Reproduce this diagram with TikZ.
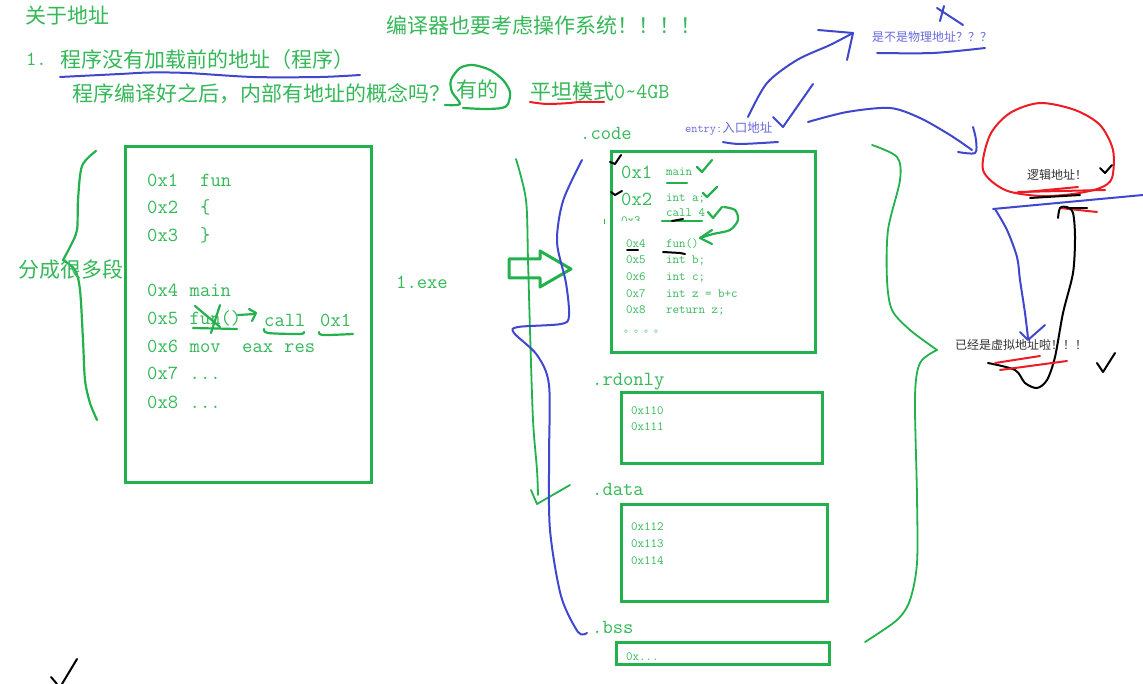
\documentclass[tikz,border=0pt]{standalone}
\usepackage{fontspec}
\setmainfont{Noto Sans CJK SC}
\definecolor{pgreen}{RGB}{34,177,76}
\definecolor{tgreen}{RGB}{52,184,88}
\definecolor{pblue}{RGB}{63,72,204}
\definecolor{tblue}{RGB}{105,105,222}
\definecolor{pred}{RGB}{237,28,36}
\definecolor{tdark}{RGB}{50,50,50}
\newcommand\myfs[1]{\fontsize{#1}{#1}\selectfont}
\tikzset{
  txt/.style={anchor=base west, inner sep=0pt, text=tgreen},
  zh/.style={txt, font={\myfs{21}}},
  cd/.style={txt, font={\ttfamily\myfs{20}}},
  sm/.style={txt, font={\ttfamily\myfs{12.6}}},
  gpen/.style={draw=pgreen, line width=2.2pt, line cap=round, line join=round},
  gbox/.style={draw=pgreen, line width=3pt},
  bpen/.style={draw=pblue, line width=2pt, line cap=round, line join=round},
  rpen/.style={draw=pred, line width=2pt, line cap=round, line join=round},
  kpen/.style={draw=black, line width=2pt, line cap=round, line join=round},
}
\begin{document}
\begin{tikzpicture}[x=1pt,y=-1pt]
\fill[white] (0,0) rectangle (1143,684);
\useasboundingbox (0,0) rectangle (1143,684);

% ---------- header texts ----------
\node[zh] (title) at (25,24) {关于地址};
\node[zh] (os) at (386,34) {编译器也要考虑操作系统！！！！};
\node[cd] (n1) at (26,66) {1.};
\node[zh] (q1) at (60,68) {程序没有加载前的地址（程序）};
\node[zh] (q2) at (72,102) {程序编译好之后，内部有地址的概念吗？};
\node[zh] (yes) at (456,98) {有的};
\node[zh] (flat) at (530,100) {平坦模式};
\node[txt, font={\ttfamily\myfs{21.5}}] (gb) at (614,99) {0\char"7E 4GB};

\draw[bpen] plot[smooth] coordinates {(60,77) (120,74) (150,72.5) (187,73) (253,77) (320,77) (360,75)};
\draw[gpen] plot[smooth] coordinates {(445,105) (460,104) (452,92) (451,80) (460,68) (473,65) (490,70) (503,80) (510,92) (508,104) (502,108) (485,109) (463,108)};
\draw[rpen] plot[smooth] coordinates {(530,102) (547,104) (570,103) (578,102) (604,102)};

% ---------- left part ----------
\draw[gpen] plot[smooth] coordinates {(96,151) (82,166) (78,200) (77,230) (70,247) (63,260)};
\draw[gpen] plot[smooth] coordinates {(63,260) (75,270) (80,290) (83,340) (85,380) (90,403) (97,420)};
\node[zh] (seg) at (18,278) {分成很多段};

\draw[gbox] (125,147) rectangle (371,482);
\node[cd] (a1) at (147,187) {0x1};
\node[cd] (a2) at (147,214) {0x2};
\node[cd] (a3) at (147,242) {0x3};
\node[cd] (a4) at (147,297) {0x4};
\node[cd] (a5) at (147,325) {0x5};
\node[cd] (a6) at (147,353) {0x6};
\node[cd] (a7) at (147,380) {0x7};
\node[cd] (a8) at (147,408) {0x8};
\node[cd] (l1) at (200,187) {fun};
\node[cd] (l2) at (200,214) {\{};
\node[cd] (l3) at (200,242) {\}};
\node[cd] (l4) at (189.5,297) {main};
\node[cd] (l5) at (189.5,325) {fun()};
\node[cd] (call) at (264,327) {call};
\node[cd] (callad) at (320,327) {0x1};
\node[cd] (l6) at (189.5,353) {mov};
\node[cd] (eax) at (242,353) {eax};
\node[cd] (res) at (284,353) {res};
\node[cd] (l7) at (189.5,380) {...};
\node[cd] (l8) at (189.5,408) {...};
\draw[gpen] (195,306) -- (220,327);
\draw[gpen] (220,305) -- (211,333);
\draw[gpen] (193,328) -- (237,329);
\draw[gpen] (238,315) -- (255,314);
\draw[gpen] (249,309) -- (256,313) -- (252,321);
\draw[gpen] plot[smooth] coordinates {(264,329) (268,333) (300,334) (304,332)};
\draw[gpen] plot[smooth] coordinates {(319,332) (323,335) (353,334)};

% ---------- middle ----------
\node[cd] (exe) at (396,289) {1.exe};
\draw[gpen, line width=3pt] (509,259) -- (540,259) -- (540,251) -- (571,269) -- (540,287) -- (540,278) -- (509,278) -- cycle;
\draw[gpen, line width=1.8pt] plot[smooth] coordinates {(516,159) (526,200) (528,260) (530,330) (533,420) (537,470) (538,495)};
\draw[gpen, line width=1.8pt] (531,490) -- (537,504) -- (570,485);
\draw[bpen] plot[smooth] coordinates {(582,160) (563,201) (557,242) (566,283) (569,316) (561,324) (518,327) (514,333) (537,355) (549,385) (549,460) (550,530) (561,596) (578,632) (587,633)};

% ---------- sections ----------
\node[cd] (code) at (580,140) {.code};
\node[cd] (rdonly) at (592,385) {.rdonly};
\node[cd] (data) at (592,495) {.data};
\node[cd] (bss) at (592,633) {.bss};

\draw[gbox] (611,152) rectangle (815,353);
\node[cd] (b1) at (621,179) {0x1};
\node[sm] (c1) at (666,175.5) {main};
\node[cd] (b2) at (621,206) {0x2};
\node[sm] (c2) at (666,202) {int a;};
\begin{scope}
\clip (615,207) rectangle (660,221);
\node[sm] (b3) at (621,225) {0x3};
\end{scope}
\node[sm] (c3) at (666,217) {call 4};
\node[sm] (b4) at (626,248) {0x4};
\node[sm] (c4) at (666,248) {fun()};
\node[sm] (b5) at (626,264) {0x5};
\node[sm] (c5) at (666,264) {int b;};
\node[sm] (b6) at (626,281) {0x6};
\node[sm] (c6) at (666,281) {int c;};
\node[sm] (b7) at (626,298) {0x7};
\node[sm] (c7) at (666,298) {int z = b+c};
\node[sm] (b8) at (626,314) {0x8};
\node[sm] (c8) at (666,314) {return z;};
\node[txt, font={\myfs{10}}] (dots) at (624,333) {。。。。};
\draw[pgreen, line width=1pt] (604,219) -- (604,224);

\draw[gpen] (697,167) -- (702,172) -- (712,160);
\draw[gpen] (703,193) -- (707,197) -- (717,187);
\draw[gpen] (708,212) -- (713,218) -- (722,207);
\draw[gpen] (667,183) -- (687,183);
\draw[gpen] (662,221) -- (702,221);
\draw[gpen] plot[smooth] coordinates {(724,207) (735,210) (738,220) (730,230) (713,234) (700,238)};
\draw[gpen] (712,230) -- (700,238) -- (712,244);
\draw[kpen] (610,162) -- (615,164) -- (621,155);
\draw[kpen] (611,192) -- (615,195) -- (622,191);
\draw[kpen] (672,221) -- (683,219);
\draw[kpen] (627,250) -- (638,250);
\draw[kpen] (663,252) -- (680,253) -- (685,254);

\draw[gbox] (621,393) rectangle (822,463);
\node[sm] (r1) at (631,414) {0x110};
\node[sm] (r2) at (631,430) {0x111};
\draw[gbox] (621,504) rectangle (827,601);
\node[sm] (d1) at (631,530) {0x112};
\node[sm] (d2) at (631,547) {0x113};
\node[sm] (d3) at (631,564) {0x114};
\draw[gbox] (616,642) rectangle (829,664);
\node[sm] (s1) at (626,660) {0x...};

% right brace
\draw[gpen, line width=1.8pt] plot[smooth] coordinates {(872,145) (897,157) (900,180) (888,230) (887,280) (892,310) (910,330) (937,350)};
\draw[gpen, line width=1.8pt] plot[smooth] coordinates {(937,350) (920,363) (915,397) (917,497) (917,563) (910,600) (897,620) (865,642)};

% ---------- upper right ----------
\node[txt, text=tblue, font={\myfs{12.5}}] (entry) at (685,133) {{\ttfamily\myfs{12}entry:}入口地址};
\draw[bpen] plot[smooth] coordinates {(723,142) (740,144) (778,142)};
\draw[bpen] plot[smooth] coordinates {(748,117) (767,83) (797,60) (830,45) (853,33)};
\draw[bpen] (818,30) -- (853,33) -- (847,60);
\draw[bpen] (773,117) -- (783,127) -- (813,84);
\node[txt, text=tblue, font={\myfs{12}}] (phys) at (872,42) {是不是物理地址？？？};
\draw[bpen] plot[smooth] coordinates {(877,53) (933,53) (985,48)};
\draw[bpen] (937,8) -- (963,25);
\draw[bpen] (944,6) -- (940,21);
\draw[bpen] plot[smooth] coordinates {(808,122) (847,112) (890,108) (920,118) (950,135) (972,150)};
\draw[bpen] plot[smooth] coordinates {(973,127) (976,140) (975,153) (958,152)};

\draw[rpen] plot[smooth cycle] coordinates {(983,170) (990,135) (1010,113) (1040,103) (1075,110) (1100,125) (1113,150) (1112,178) (1100,188) (1073,194) (1040,196) (1005,190)};
\node[txt, text=tdark, font={\myfs{12}}] (logic) at (1027,180) {逻辑地址！};
\draw[kpen] (1100,168) -- (1105,173) -- (1112,165);
\draw[rpen] (1015,193) -- (1078,187);
\draw[rpen] (1018,192) -- (1105,190);
\draw[rpen] (1060,208) -- (1097,212);
\draw[kpen] (1030,198) -- (1080,195);
\draw[bpen] (993,209) -- (1143,195);
\draw[bpen] plot[smooth] coordinates {(995,209) (1007,230) (1017,257) (1020,280) (1025,313) (1028,338)};
\draw[bpen] (1020,332) -- (1028,340) -- (1045,325);
\draw[kpen] plot[smooth] coordinates {(1058,218) (1060,208) (1067,207) (1073,213) (1075,237) (1073,273) (1063,313) (1055,357) (1047,380) (1037,388) (1025,383) (1015,370) (988,363)};
\draw[kpen] (1067,208) -- (1087,208);
\node[txt, text=tdark, font={\myfs{12}}] (virt) at (955,350) {已经是虚拟地址啦！！！};
\draw[rpen] (995,363) -- (1040,356);
\draw[rpen] (1000,370) -- (1067,361);
\draw[kpen] (1097,363) -- (1103,372) -- (1115,353);

% bottom-left mark
\draw[kpen] (51,677) -- (57,684);
\draw[kpen] (62,684) -- (77,659);
\end{tikzpicture}
\end{document}
